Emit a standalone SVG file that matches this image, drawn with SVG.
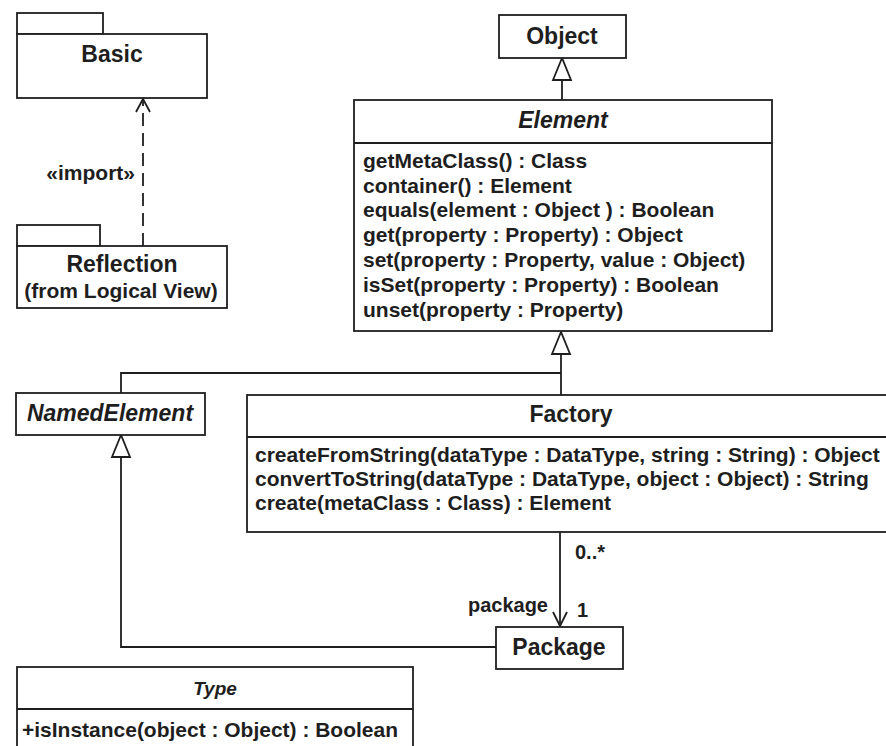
<svg xmlns="http://www.w3.org/2000/svg" width="886" height="746" viewBox="0 0 886 746">
  <style>
    .box { fill: #fff; stroke: #1e1e1e; stroke-width: 1.8; }
    .sep { stroke: #1e1e1e; stroke-width: 1.8; fill: none; }
    .edge { stroke: #1e1e1e; stroke-width: 1.8; fill: none; }
    .dash { stroke-dasharray: 13 7; }
    .tri { fill: #fff; stroke: #1e1e1e; stroke-width: 1.8; }
    text { font-family: "Liberation Sans", Arial, sans-serif; font-weight: bold; fill: #1e1e1e; }
    .title { font-size: 23px; text-anchor: middle; }
    .abs { font-style: italic; }
    .op { font-size: 21px; }
    .lbl { font-size: 20px; }
  </style>

  <rect width="886" height="746" fill="#fff"/>

  <!-- connectors -->
  <g id="connectors">
    <!-- Reflection imports Basic -->
    <path class="edge dash" d="M143,246 V100"/>
    <path class="edge" d="M136,112 L143,99 L150,112"/>
    <text class="lbl" x="135" y="180" text-anchor="end" style="font-size:21px">«import»</text>

    <!-- Element generalizes to Object -->
    <path class="edge" d="M562,80 V100"/>
    <polygon class="tri" points="562,58 553,80 571,80"/>

    <!-- Factory and NamedElement generalize to Element -->
    <path class="edge" d="M561,354 V395"/>
    <path class="edge" d="M561,373 H121 V393"/>
    <polygon class="tri" points="561,332 552,354 570,354"/>

    <!-- Package generalizes to NamedElement -->
    <path class="edge" d="M496,647 H121 V457"/>
    <polygon class="tri" points="121,435 112,457 130,457"/>

    <!-- Factory to Package association -->
    <path class="edge" d="M560,532 V626"/>
    <path class="edge" d="M553,612 L560,626 L567,612"/>
    <text class="lbl" x="575" y="559">0..*</text>
    <text class="lbl" x="548" y="612" text-anchor="end">package</text>
    <text class="lbl" x="577" y="617">1</text>
  </g>

  <!-- Basic package -->
  <g id="Basic">
    <rect class="box" x="17" y="13" width="86" height="21"/>
    <rect class="box" x="17" y="34" width="190" height="64"/>
    <text class="title" x="112" y="62">Basic</text>
  </g>

  <!-- Reflection package -->
  <g id="Reflection">
    <rect class="box" x="17" y="225" width="83" height="21"/>
    <rect class="box" x="17" y="246" width="210" height="62"/>
    <text class="title" x="122" y="272">Reflection</text>
    <text class="title" x="121" y="298" style="font-size:21px">(from Logical View)</text>
  </g>

  <!-- Object -->
  <g id="Object">
    <rect class="box" x="499" y="15" width="127" height="43"/>
    <text class="title" x="562" y="44">Object</text>
  </g>

  <!-- Element -->
  <g id="Element">
    <rect class="box" x="354" y="100" width="418" height="231"/>
    <line class="sep" x1="354" y1="143" x2="772" y2="143"/>
    <text class="title abs" x="563" y="128">Element</text>
    <text class="op" x="363" y="168">getMetaClass() : Class</text>
    <text class="op" x="363" y="193">container() : Element</text>
    <text class="op" x="363" y="217">equals(element : Object ) : Boolean</text>
    <text class="op" x="363" y="242">get(property : Property) : Object</text>
    <text class="op" x="363" y="267">set(property : Property, value : Object)</text>
    <text class="op" x="363" y="292">isSet(property : Property) : Boolean</text>
    <text class="op" x="363" y="317">unset(property : Property)</text>
  </g>

  <!-- NamedElement -->
  <g id="NamedElement">
    <rect class="box" x="16" y="393" width="189" height="42"/>
    <text class="title abs" x="110" y="421">NamedElement</text>
  </g>

  <!-- Factory -->
  <g id="Factory">
    <rect class="box" x="247" y="395" width="650" height="137"/>
    <line class="sep" x1="247" y1="437" x2="897" y2="437"/>
    <text class="title" x="571" y="422">Factory</text>
    <text class="op" x="255" y="462">createFromString(dataType : DataType, string : String) : Object</text>
    <text class="op" x="255" y="486">convertToString(dataType : DataType, object : Object) : String</text>
    <text class="op" x="255" y="510">create(metaClass : Class) : Element</text>
  </g>

  <!-- Package -->
  <g id="Package">
    <rect class="box" x="496" y="627" width="127" height="42"/>
    <text class="title" x="559" y="655">Package</text>
  </g>

  <!-- Type -->
  <g id="Type">
    <rect class="box" x="17" y="667" width="396" height="100"/>
    <line class="sep" x1="17" y1="709" x2="413" y2="709"/>
    <text class="title abs" x="215" y="695" style="font-size:19px">Type</text>
    <text class="op" x="22" y="737" textLength="376" lengthAdjust="spacingAndGlyphs">+isInstance(object : Object) : Boolean</text>
  </g>
</svg>
